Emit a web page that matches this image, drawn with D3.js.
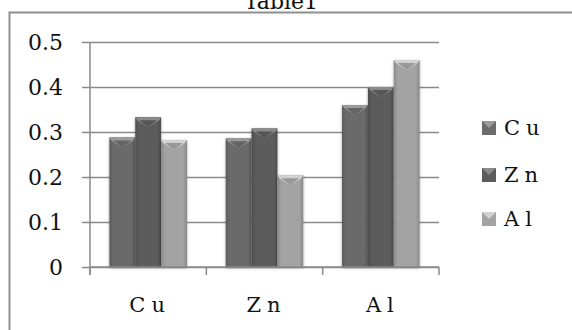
<!DOCTYPE html>
<html>
<head>
<meta charset="utf-8">
<script src="https://cdn.jsdelivr.net/npm/d3@7/dist/d3.min.js"></script>
<style>
  html, body { margin: 0; padding: 0; background: #fff; }
  svg { display: block; }
  text { font-family: "DejaVu Serif", "Liberation Serif", serif; fill: #111; }
</style>
</head>
<body>
<svg id="chart" width="572" height="330"></svg>
<script>
// Data
const categories = ["Cu", "Zn", "Al"];
const seriesNames = ["Cu", "Zn", "Al"];
const cuValues = [0.288, 0.286, 0.36];
const znValues = [0.333, 0.308, 0.40];
const alValues = [0.282, 0.204, 0.46];
const yTicks = [0, 0.1, 0.2, 0.3, 0.4, 0.5];
const tickLabels = ["0", "0.1", "0.2", "0.3", "0.4", "0.5"];
const title = "Table1";

const seriesValues = [cuValues, znValues, alValues];
const seriesColors = ["#6b6b6b", "#5c5c5c", "#a3a3a3"];
const capColors = ["#9a9a9a", "#8a8a8a", "#d2d2d2"];

const svg = d3.select("#chart");
const plot = { left: 90, right: 439, top: 42, bottom: 267 };

// Outer chart frame
svg.append("rect")
  .attr("x", 9.5).attr("y", 12.5)
  .attr("width", 600).attr("height", 400)
  .attr("fill", "none").attr("stroke", "#8f8f8f").attr("stroke-width", 2);

svg.append("text")
  .attr("x", 281).attr("y", 9)
  .attr("text-anchor", "middle")
  .attr("font-size", 22)
  .text(title);

const y = d3.scaleLinear().domain([0, 0.5]).range([plot.bottom, plot.top]);
const x0 = d3.scaleBand().domain(categories).range([plot.left, plot.right]).padding(0);
const x1 = d3.scaleBand().domain(seriesNames).range([0, x0.bandwidth()])
  .paddingInner(0).paddingOuter(0.75);

// Gridlines with left tick marks
const yAxis = d3.axisLeft(y).tickValues(yTicks)
  .tickSize(-(plot.right - plot.left) - 8)
  .tickFormat((d, i) => tickLabels[i]);
const gy = svg.append("g")
  .attr("transform", `translate(${plot.right},0)`)
  .call(yAxis);
gy.select(".domain").remove();
gy.selectAll(".tick line")
  .attr("x1", 0).attr("x2", -(plot.right - plot.left) - 8)
  .attr("stroke", "#8a8a8a").attr("stroke-width", 1.5);
gy.selectAll(".tick text").remove();

// Y tick labels
svg.append("g").selectAll("text")
  .data(yTicks)
  .join("text")
  .attr("x", 63).attr("y", d => y(d) + 8)
  .attr("text-anchor", "end")
  .attr("font-size", 22)
  .text((d, i) => tickLabels[i]);

// Y axis line
svg.append("line")
  .attr("x1", plot.left).attr("x2", plot.left)
  .attr("y1", plot.top).attr("y2", plot.bottom + 8)
  .attr("stroke", "#8a8a8a").attr("stroke-width", 1.5);

// Bars
const defs = svg.append("defs");
seriesColors.forEach((c, i) => {
  const g = defs.append("linearGradient").attr("id", "grad" + i)
    .attr("x1", "0").attr("x2", "1").attr("y1", "0").attr("y2", "0");
  const base = d3.color(c);
  g.append("stop").attr("offset", "0").attr("stop-color", base.darker(0.5));
  g.append("stop").attr("offset", "0.15").attr("stop-color", base);
  g.append("stop").attr("offset", "0.85").attr("stop-color", base);
  g.append("stop").attr("offset", "1").attr("stop-color", base.darker(0.5));
});
const shadow = defs.append("filter").attr("id", "shadow")
  .attr("x", "-30%").attr("y", "-10%").attr("width", "160%").attr("height", "130%");
shadow.append("feGaussianBlur").attr("in", "SourceAlpha").attr("stdDeviation", 1.5);
shadow.append("feOffset").attr("dx", 0).attr("dy", 1).attr("result", "b");
shadow.append("feComponentTransfer").append("feFuncA").attr("type", "linear").attr("slope", 0.35);
const fm = shadow.append("feMerge");
fm.append("feMergeNode");
fm.append("feMergeNode").attr("in", "SourceGraphic");

const bars = [];
categories.forEach((cat, ci) => {
  seriesNames.forEach((s, si) => {
    bars.push({ cat, s, si, v: seriesValues[si][ci] });
  });
});

const gb = svg.append("g");
const barG = gb.selectAll("g.bar").data(bars).join("g").attr("class", "bar")
  .attr("filter", "url(#shadow)");
barG.append("rect")
  .attr("x", d => x0(d.cat) + x1(d.s))
  .attr("y", d => y(d.v))
  .attr("width", x1.bandwidth())
  .attr("height", d => y(0) - y(d.v))
  .attr("fill", d => `url(#grad${d.si})`);
// Bevelled top cap
barG.append("path")
  .attr("d", d => {
    const a = x0(d.cat) + x1(d.s), b = a + x1.bandwidth(), t = y(d.v), m = (a + b) / 2;
    return `M${a},${t}L${b},${t}L${b - 2},${t + 3}L${m},${t + 10}L${a + 2},${t + 3}Z`;
  })
  .attr("fill", d => capColors[d.si]);
barG.append("path")
  .attr("d", d => {
    const a = x0(d.cat) + x1(d.s), b = a + x1.bandwidth(), t = y(d.v), m = (a + b) / 2;
    return `M${a + 4},${t + 3}L${b - 4},${t + 3}L${m},${t + 10}Z`;
  })
  .attr("fill", d => d3.color(seriesColors[d.si]).darker(0.2));

// X axis
svg.append("line")
  .attr("x1", plot.left).attr("x2", plot.right)
  .attr("y1", plot.bottom).attr("y2", plot.bottom)
  .attr("stroke", "#8a8a8a").attr("stroke-width", 1.5);
const boundaries = categories.map(c => x0(c)).concat([plot.right]);
svg.append("g").selectAll("line").data(boundaries).join("line")
  .attr("x1", d => d).attr("x2", d => d)
  .attr("y1", plot.bottom).attr("y2", plot.bottom + 8)
  .attr("stroke", "#8a8a8a").attr("stroke-width", 1.5);
svg.append("g").selectAll("text").data(categories).join("text")
  .attr("x", d => x0(d) + x0.bandwidth() / 2 + 2)
  .attr("y", 312)
  .attr("text-anchor", "middle")
  .attr("font-size", 21)
  .attr("letter-spacing", 6)
  .text(d => d);

// Legend
const legend = svg.append("g");
const legendY = [128, 175, 219];
seriesNames.forEach((s, i) => {
  const g = legend.append("g").attr("transform", `translate(482,${legendY[i]})`);
  g.append("rect").attr("x", 0).attr("y", -7).attr("width", 14).attr("height", 14)
    .attr("fill", seriesColors[i]);
  g.append("path").attr("d", "M0,-7L14,-7L7,0Z").attr("fill", capColors[i]);
  g.append("text").attr("x", 22).attr("y", 7)
    .attr("font-size", 21).attr("letter-spacing", 6).text(s);
});
</script>
</body>
</html>
